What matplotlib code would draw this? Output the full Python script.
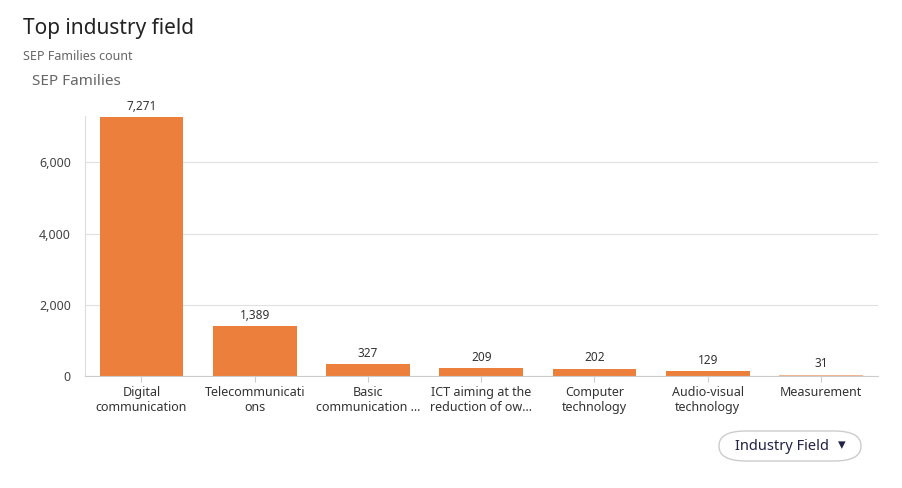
import matplotlib
matplotlib.use("Agg")
import matplotlib.pyplot as plt
from matplotlib.patches import FancyBboxPatch

categories = ["Digital\ncommunication", "Telecommunicati\nons", "Basic\ncommunication ...",
              "ICT aiming at the\nreduction of ow...", "Computer\ntechnology",
              "Audio-visual\ntechnology", "Measurement"]
values = [7271, 1389, 327, 209, 202, 129, 31]
yticks = [0, 2000, 4000, 6000]

plt.rcParams["font.family"] = "Noto Sans"
fig = plt.figure(figsize=(9.02, 4.88), dpi=100)
ax = fig.add_axes([0.094, 0.23, 0.879, 0.532])
colors = ["#ED7F3C"] * 6 + ["#F3B58D"]
x = range(len(values))
ax.bar(x, values, width=0.74, color=colors)
for i, v in enumerate(values):
    ax.text(i, v + 120, f"{v:,}", ha="center", va="bottom", fontsize=8.5, color="#333333")
ax.set_xlim(-0.5, len(values) - 0.5)
ax.set_ylim(0, 7300)
ax.set_yticks(yticks)
ax.set_yticklabels([f"{t:,}" for t in yticks], fontsize=9, color="#444444")
ax.set_xticks(list(x))
ax.set_xticklabels(categories, fontsize=9, color="#333333")
ax.tick_params(axis="y", length=0, pad=10)
ax.tick_params(axis="x", length=4, color="#cccccc")
ax.grid(axis="y", color="#e0e0e0", linewidth=0.8)
ax.set_axisbelow(True)
for s in ["top", "right"]:
    ax.spines[s].set_visible(False)
ax.spines["left"].set_color("#dddddd")
ax.spines["bottom"].set_color("#cccccc")

fig.text(0.025, 0.93, "Top industry field", fontsize=15, color="#222222")
fig.text(0.025, 0.877, "SEP Families count", fontsize=9, color="#666666")
fig.text(0.035, 0.825, "SEP Families", fontsize=11, color="#666666")

btn = FancyBboxPatch((719/902, 1-461/488), 142/902, 30/488,
                     boxstyle="round,pad=0,rounding_size=0.03", transform=fig.transFigure,
                     facecolor="white", edgecolor="#cccccc", linewidth=1)
fig.patches.append(btn)
fig.text(782/902, 1-446/488, "Industry Field", fontsize=10.5, color="#222244", ha="center", va="center")
fig.text(842/902, 1-445/488, "\u25BE", fontsize=11, color="#222244", ha="center", va="center", family="DejaVu Sans")
fig.savefig("out.png", dpi=100)
